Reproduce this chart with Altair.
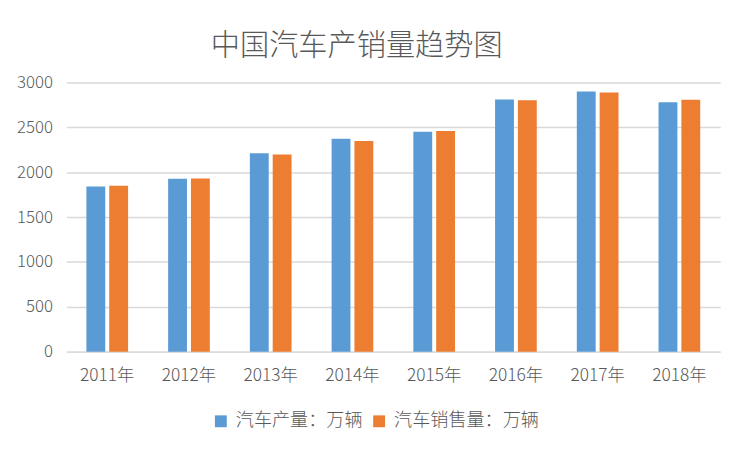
import altair as alt
import pandas as pd

years = ["2011年", "2012年", "2013年", "2014年", "2015年", "2016年", "2017年", "2018年"]
series = ["汽车产量：万辆", "汽车销售量：万辆"]
production = [1841.89, 1927.18, 2211.68, 2372.29, 2450.33, 2811.88, 2901.54, 2780.92]
sales = [1850.51, 1930.64, 2198.41, 2349.19, 2459.76, 2802.82, 2887.89, 2808.06]
colors = ["#5B9BD5", "#ED7D31"]
y_ticks = [0, 500, 1000, 1500, 2000, 2500, 3000]

rows = []
for i, y in enumerate(years):
    rows.append({"year": y, "series": series[0], "value": production[i]})
    rows.append({"year": y, "series": series[1], "value": sales[i]})
df = pd.DataFrame(rows)

FONT = "Noto Sans CJK SC"
GRAY = "#595959"

chart = alt.Chart(df).mark_bar().encode(
    x=alt.X("year:N", sort=years,
            scale=alt.Scale(paddingInner=0.49, paddingOuter=0.245),
            axis=alt.Axis(title=None, labelAngle=0, ticks=False, domain=True,
                          domainColor="#d9d9d9", domainWidth=1.5,
                          labelPadding=15, labelFontSize=17.5, labelColor=GRAY,
                          labelFont=FONT, labelFontWeight=300)),
    xOffset=alt.XOffset("series:N", sort=series,
                        scale=alt.Scale(domain=series, paddingInner=0.174)),
    y=alt.Y("value:Q", scale=alt.Scale(domain=[0, 3000], nice=False),
            axis=alt.Axis(title=None, values=y_ticks, ticks=False, domain=False,
                          format="d",
                          gridColor="#d9d9d9", gridWidth=1.5,
                          labelPadding=14, labelFontSize=17, labelColor=GRAY,
                          labelFont=FONT, labelFontWeight=300)),
    color=alt.Color("series:N", sort=series,
                    scale=alt.Scale(domain=series, range=colors),
                    legend=alt.Legend(title=None, orient="none", direction="horizontal",
                                      legendX=147, legendY=333,
                                      symbolType="square", symbolSize=144,
                                      symbolStrokeWidth=0,
                                      labelFontSize=18.3, labelColor=GRAY, labelFont=FONT,
                                      labelFontWeight=300,
                                      labelOffset=6, columnPadding=7, labelLimit=300)),
).properties(
    width=661,
    height=272,
    title=alt.TitleParams("中国汽车产销量趋势图", fontSize=29.5, fontWeight=300,
                          color=GRAY, font=FONT, anchor="middle", dx=-37, offset=12),
    autosize=alt.AutoSizeParams(type="none"),
    padding={"left": 59, "top": 73, "right": 24, "bottom": 90},
).configure_view(stroke=None)

chart.save("out.html", embed_options={"renderer": "svg", "actions": False})
